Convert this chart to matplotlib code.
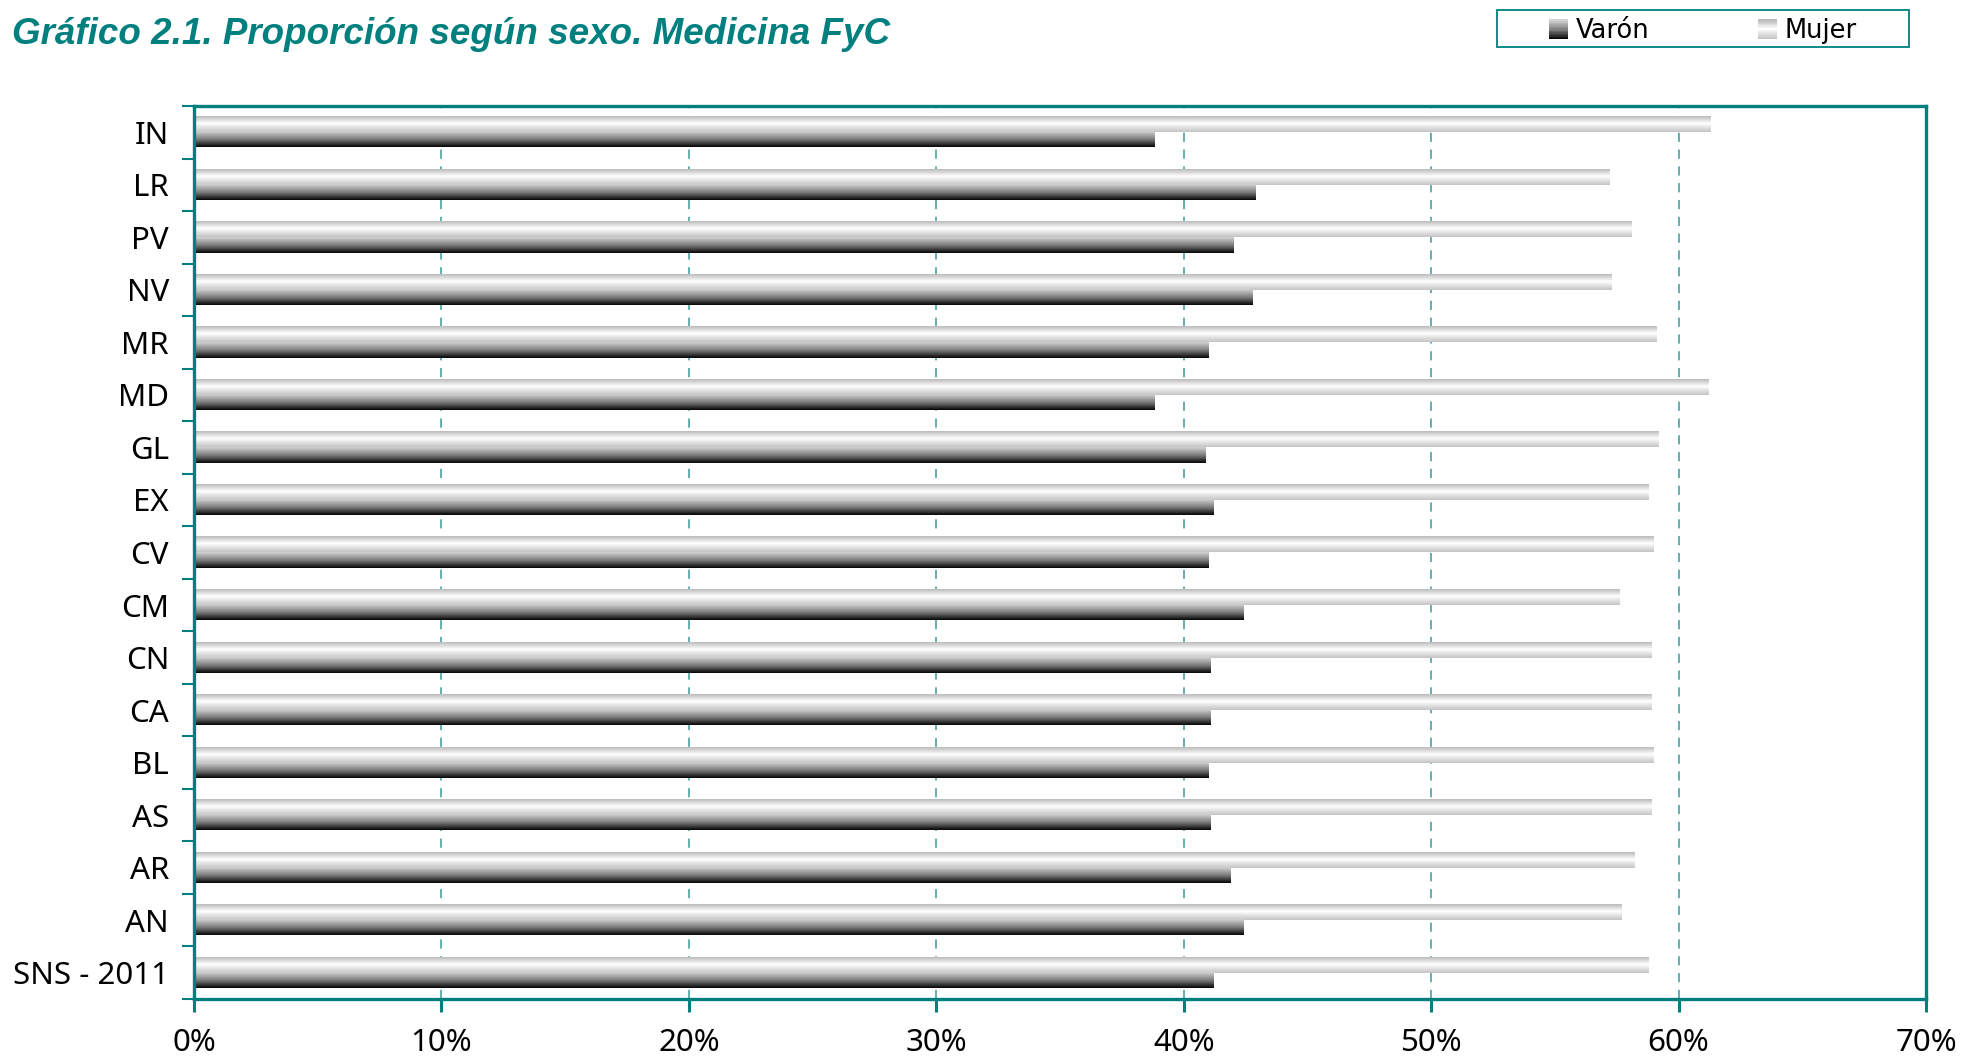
import numpy as np
import matplotlib
matplotlib.use('Agg')
import matplotlib.pyplot as plt
from matplotlib.colors import LinearSegmentedColormap
from matplotlib.legend_handler import HandlerBase
from matplotlib.patches import Rectangle
from matplotlib.ticker import FuncFormatter, FixedLocator

# Data (top to bottom as shown)
regions = ['IN', 'LR', 'PV', 'NV', 'MR', 'MD', 'GL', 'EX', 'CV', 'CM',
           'CN', 'CA', 'BL', 'AS', 'AR', 'AN', 'SNS - 2011']
varon = [38.8, 42.9, 42.0, 42.8, 41.0, 38.8, 40.9, 41.2, 41.0, 42.4,
         41.1, 41.1, 41.0, 41.1, 41.9, 42.4, 41.2]
mujer = [61.3, 57.2, 58.1, 57.3, 59.1, 61.2, 59.2, 58.8, 59.0, 57.6,
         58.9, 58.9, 59.0, 58.9, 58.2, 57.7, 58.8]
xticks = [0, 10, 20, 30, 40, 50, 60, 70]

TEAL = '#007f7f'
GRID = '#3a9a9a'

cmap_varon = LinearSegmentedColormap.from_list(
    'varon', [(0, '#050505'), (0.45, '#747474'), (1, '#d2d2d2')])
cmap_mujer = LinearSegmentedColormap.from_list(
    'mujer', [(0, '#c4c4c4'), (0.55, '#ffffff'), (1, '#bcbcbc')])


class GradientHandler(HandlerBase):
    """Legend key drawn as a small square with a vertical gradient."""
    def __init__(self, cmap, n=14):
        super().__init__()
        self.cmap = cmap
        self.n = n

    def create_artists(self, legend, orig_handle, xdescent, ydescent,
                       width, height, fontsize, trans):
        side = width
        x0 = -xdescent
        y0 = -ydescent + (height - side) / 2
        arts = []
        for k in range(self.n):
            arts.append(Rectangle((x0, y0 + k * side / self.n), side, side / self.n + 0.3,
                                  facecolor=self.cmap(k / (self.n - 1)), edgecolor='none',
                                  transform=trans))
        return arts


fig = plt.figure(figsize=(19.63, 10.56), dpi=100)
ax = fig.add_axes([194 / 1963, 1 - 999 / 1056, (1926 - 194) / 1963, (999 - 106) / 1056])

n = len(regions)
pos = np.arange(n)[::-1]
h = 0.29
bars_m = ax.barh(pos + h / 2, mujer, height=h, color='none', edgecolor='none', zorder=2)
bars_v = ax.barh(pos - h / 2, varon, height=h, color='none', edgecolor='none', zorder=2)

# fill every bar with a vertical gradient
grad = np.linspace(0, 1, 64).reshape(-1, 1)
for bars, cmap in ((bars_m, cmap_mujer), (bars_v, cmap_varon)):
    for b in bars:
        x0, y0, w, hh = b.get_x(), b.get_y(), b.get_width(), b.get_height()
        ax.imshow(grad, cmap=cmap, extent=[x0, x0 + w, y0, y0 + hh], origin='lower',
                  aspect='auto', interpolation='bilinear', zorder=2)

ax.set_xlim(0, 70)
ax.set_ylim(-0.5, n - 0.5)

ax.set_xticks(xticks)
ax.xaxis.set_major_formatter(FuncFormatter(lambda v, p: f'{v:.0f}%'))
ax.set_yticks(pos)
ax.set_yticklabels(regions)
ax.yaxis.set_minor_locator(FixedLocator(np.arange(-0.5, n, 1.0)))

ax.tick_params(axis='y', which='major', length=0, pad=18, labelsize=22.5)
ax.tick_params(axis='y', which='minor', length=9, width=1.5, color=TEAL, direction='out')
ax.tick_params(axis='x', which='major', length=9, width=2.2, color=TEAL, pad=12, labelsize=22.5)
for lab in ax.get_xticklabels() + ax.get_yticklabels():
    lab.set_fontfamily('Noto Sans')

for s in ax.spines.values():
    s.set_color(TEAL)
    s.set_linewidth(2.4)

ax.set_axisbelow(True)
ax.grid(axis='x', color=GRID, linestyle=(0, (6, 5)), linewidth=1.1, zorder=0)
ax.grid(axis='y', visible=False)

fig.text(12 / 1963, 1 - 34 / 1056, 'Gráfico 2.1. Proporción según sexo. Medicina FyC',
         fontsize=26.5, fontweight='bold', fontstyle='italic', color=TEAL,
         family='Liberation Sans', va='center', ha='left')

# legend box
bx, by, bw, bh = 1497 / 1963, 1 - 47 / 1056, 412 / 1963, 37 / 1056
fig.patches.append(Rectangle((bx, by), bw, bh, transform=fig.transFigure, fill=False,
                             edgecolor=TEAL, linewidth=1.3))
h_v = Rectangle((0, 0), 1, 1)
h_m = Rectangle((0, 0), 1, 1)
leg = fig.legend([h_v, h_m], ['Varón', 'Mujer'],
                 handler_map={h_v: GradientHandler(cmap_varon), h_m: GradientHandler(cmap_mujer)},
                 loc='center', ncol=2, bbox_to_anchor=(bx + bw / 2, by + bh / 2 - 3 / 1056),
                 frameon=False, borderaxespad=0, borderpad=0,
                 handlelength=0.76, handleheight=0.76, handletextpad=0.3, columnspacing=4.2,
                 prop={'family': 'DejaVu Sans', 'size': 18.5})

fig.savefig('out.png', dpi=100)
